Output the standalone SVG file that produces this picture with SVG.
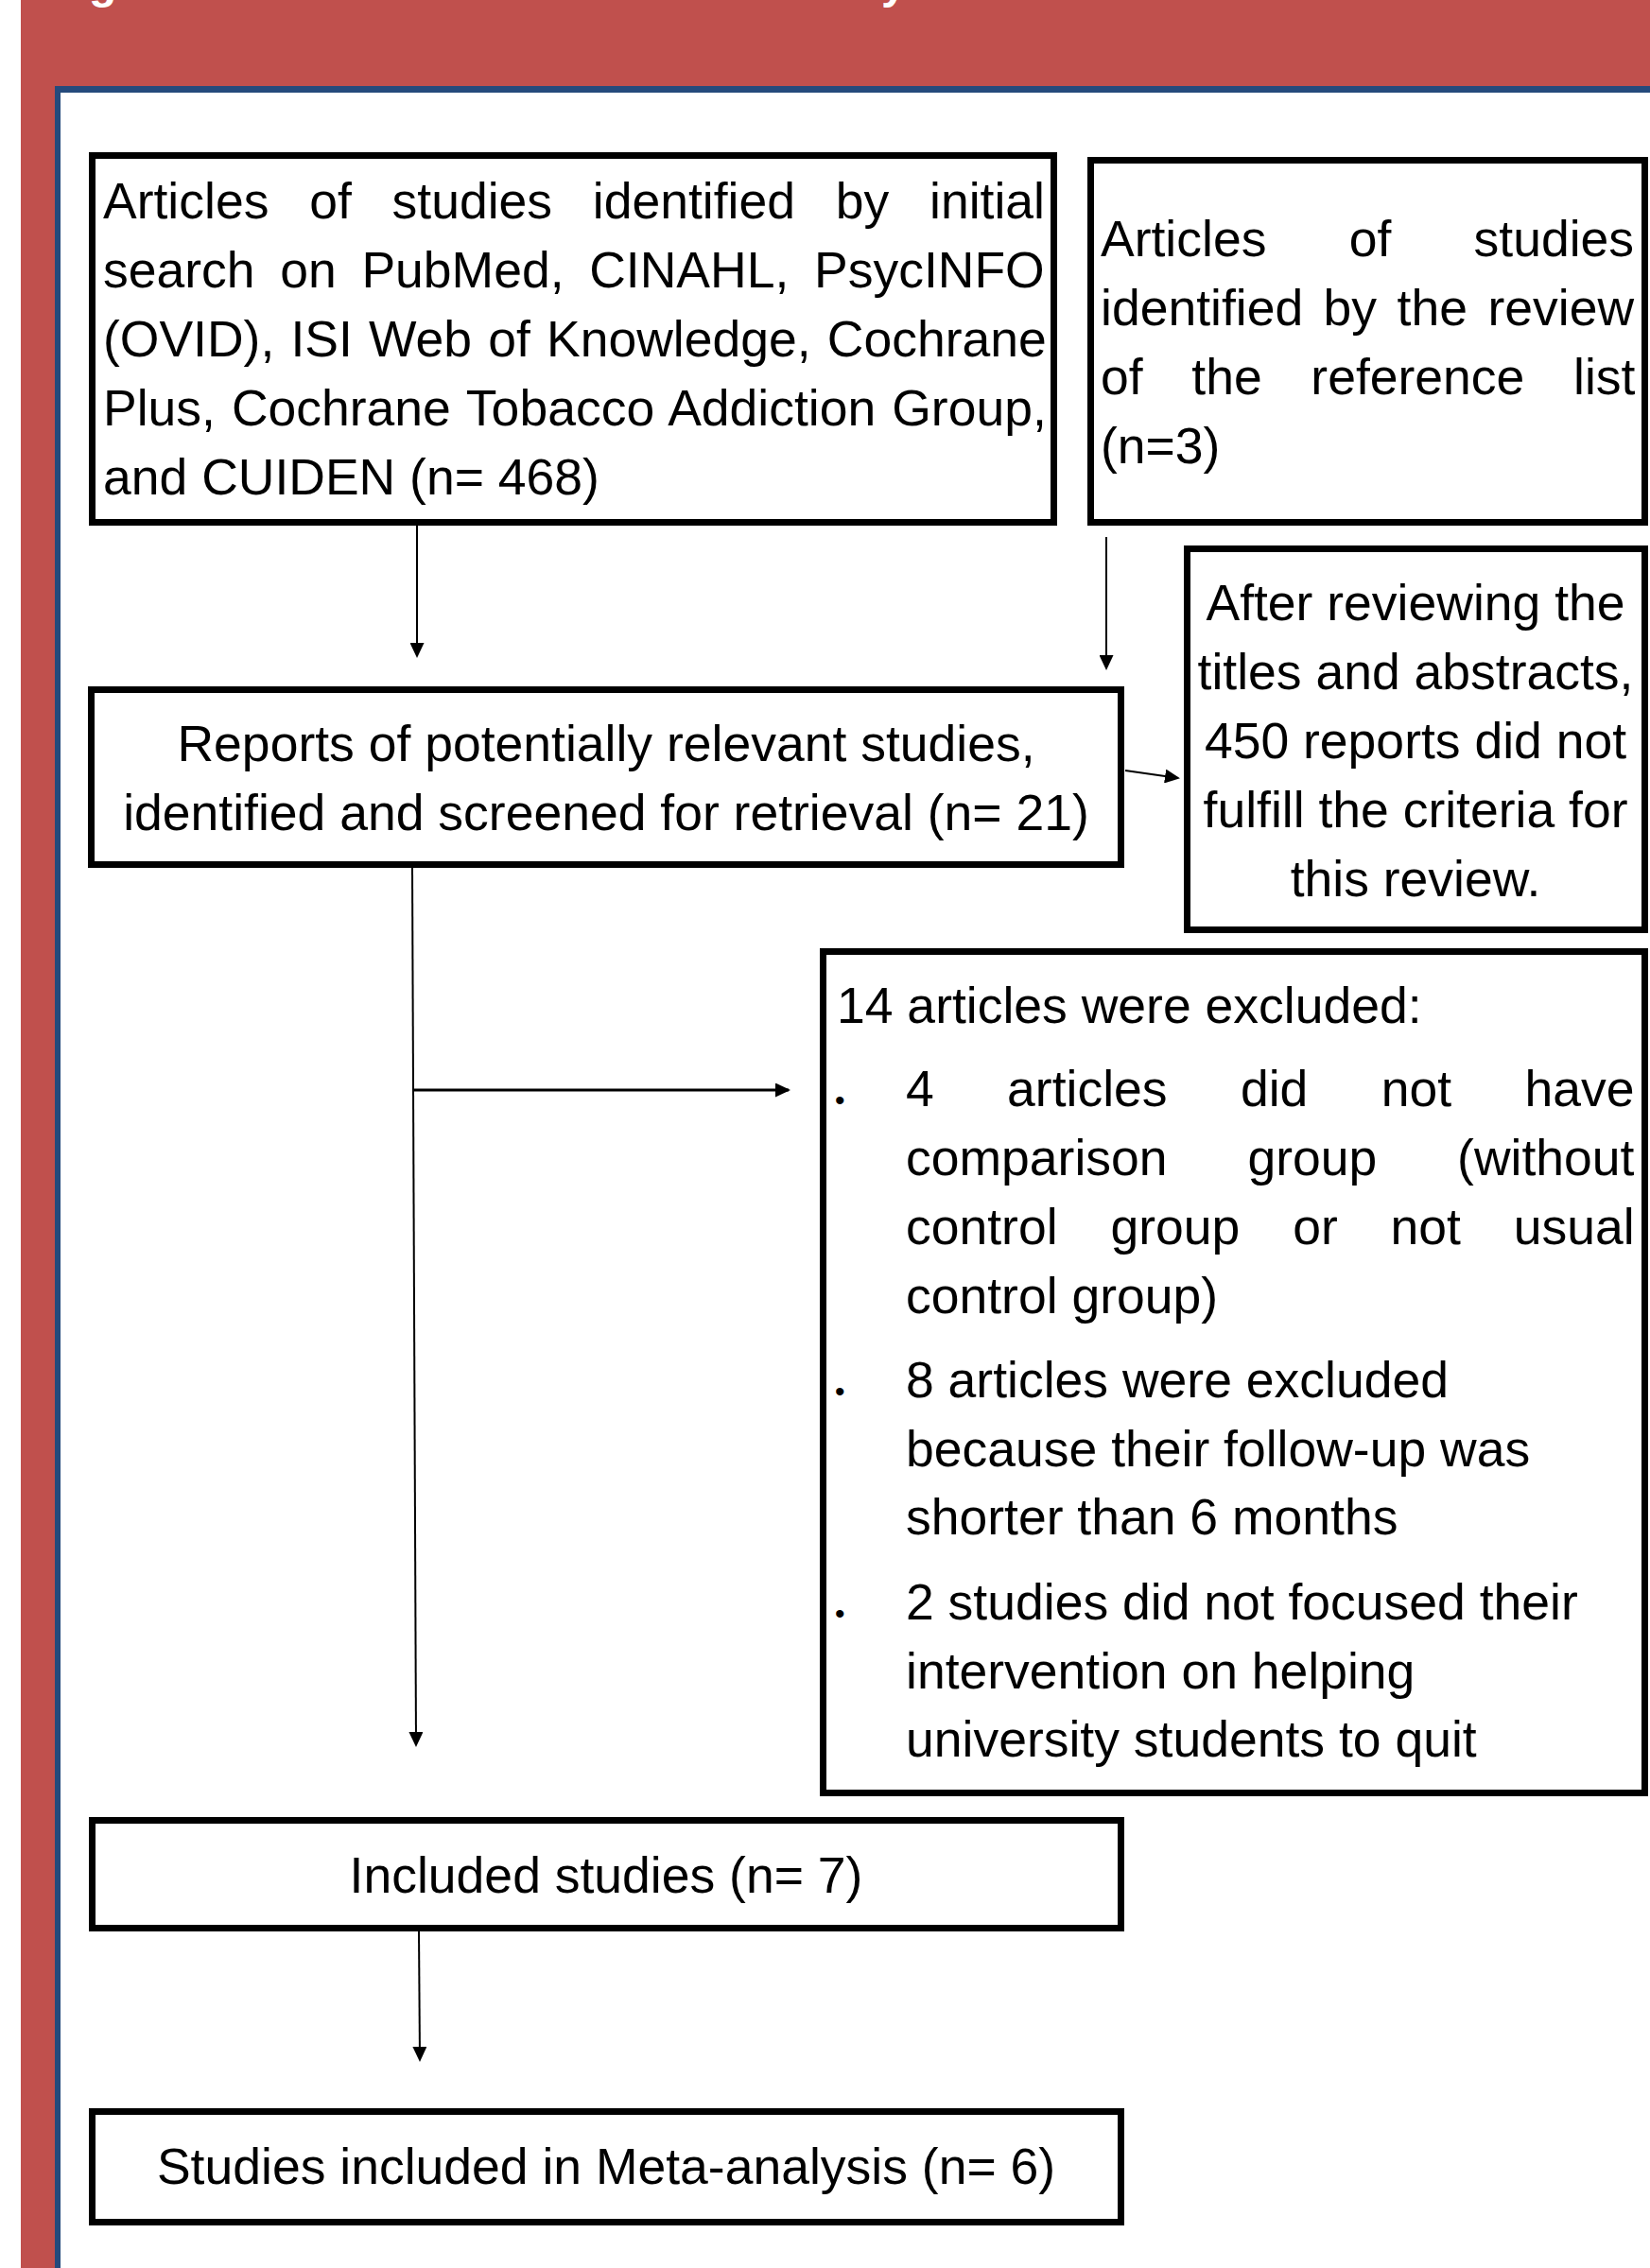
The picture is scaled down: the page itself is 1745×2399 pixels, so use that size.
<svg xmlns="http://www.w3.org/2000/svg" width="1745" height="2399" viewBox="0 0 1745 2399">
<defs>
<style>
.bg-red{fill:#C0504D}
.bg-blue{fill:#244A7C}
.box{fill:#FFFFFF;stroke:#000000;stroke-width:7}
.t{font-family:"Liberation Sans",Arial,sans-serif;font-size:53.5px;fill:#000000}
.c{text-anchor:middle}
.title{font-family:"Liberation Sans",Arial,sans-serif;font-size:48px;font-weight:bold;fill:#FFFFFF}
.bul{font-family:"Liberation Sans",Arial,sans-serif;font-size:30px;fill:#000000}
.conn{stroke:#000000;stroke-width:2;fill:none;marker-end:url(#arrow)}
</style>
<marker id="arrow" viewBox="0 0 16 15" refX="14" refY="7.5" markerWidth="16" markerHeight="15" markerUnits="userSpaceOnUse" orient="auto">
<path d="M0,0 L16,7.5 L0,15 Z" fill="#000000"/>
</marker>
</defs>

<g id="background">
<rect x="0" y="0" width="1745" height="2399" fill="#FFFFFF"/>
<rect class="bg-red" x="22" y="0" width="1723" height="91"/>
<rect class="bg-red" x="22" y="0" width="36" height="2399"/>
<rect class="bg-blue" x="58" y="91" width="1687" height="7"/>
<rect class="bg-blue" x="58" y="91" width="6" height="2308"/>
<text class="title" x="94" y="-2">g</text>
<text class="title" x="932" y="-2">y</text>
</g>

<g id="connectors">
<line class="conn" x1="441" y1="556" x2="441" y2="694"/>
<line class="conn" x1="1170" y1="568" x2="1170" y2="707"/>
<line class="conn" x1="1190" y1="815" x2="1246" y2="823"/>
<line class="conn" x1="436" y1="918" x2="440" y2="1846"/>
<line class="conn" x1="436" y1="1153" x2="834" y2="1153" style="stroke-width:3"/>
<line class="conn" x1="443" y1="2043" x2="444" y2="2179"/>
</g>

<g id="node-initial-search">
<rect class="box" x="97.5" y="164.5" width="1017" height="388"/>
<text class="t" x="109" y="231" word-spacing="27.9">Articles of studies identified by initial</text>
<text class="t" x="109" y="304" word-spacing="11.8">search on PubMed, CINAHL, PsycINFO</text>
<text class="t" x="109" y="377" word-spacing="2.3">(OVID), ISI Web of Knowledge, Cochrane</text>
<text class="t" x="109" y="450" word-spacing="2.1">Plus, Cochrane Tobacco Addiction Group,</text>
<text class="t" x="109" y="523">and CUIDEN (n= 468)</text>
</g>

<g id="node-reference-list">
<rect class="box" x="1153.5" y="169.5" width="586" height="383"/>
<text class="t" x="1164" y="271" word-spacing="72.4">Articles of studies</text>
<text class="t" x="1164" y="344" word-spacing="6.6">identified by the review</text>
<text class="t" x="1164" y="417" word-spacing="36.8">of the reference list</text>
<text class="t" x="1164" y="490">(n=3)</text>
</g>

<g id="node-reports">
<rect class="box" x="96.5" y="729.5" width="1089" height="185"/>
<text class="t c" x="641" y="805">Reports of potentially relevant studies,</text>
<text class="t c" x="641" y="878">identified and screened for retrieval (n= 21)</text>
</g>

<g id="node-titles-abstracts">
<rect class="box" x="1255.5" y="580.5" width="484" height="403"/>
<text class="t c" x="1497" y="656">After reviewing the</text>
<text class="t c" x="1497" y="729">titles and abstracts,</text>
<text class="t c" x="1497" y="802">450 reports did not</text>
<text class="t c" x="1497" y="875">fulfill the criteria for</text>
<text class="t c" x="1497" y="948">this review.</text>
</g>

<g id="node-excluded">
<rect class="box" x="870.5" y="1006.5" width="869" height="890"/>
<text class="t" x="885" y="1082">14 articles were excluded:</text>
<text class="bul" x="883" y="1174">•</text>
<text class="t" x="958" y="1170" word-spacing="62.5">4 articles did not have</text>
<text class="t" x="958" y="1243" word-spacing="70">comparison group (without</text>
<text class="t" x="958" y="1316" word-spacing="41">control group or not usual</text>
<text class="t" x="958" y="1389">control group)</text>
<text class="bul" x="883" y="1482">•</text>
<text class="t" x="958" y="1478">8 articles were excluded</text>
<text class="t" x="958" y="1551">because their follow-up was</text>
<text class="t" x="958" y="1623">shorter than 6 months</text>
<text class="bul" x="883" y="1717">•</text>
<text class="t" x="958" y="1713">2 studies did not focused their</text>
<text class="t" x="958" y="1786">intervention on helping</text>
<text class="t" x="958" y="1858">university students to quit</text>
</g>

<g id="node-included">
<rect class="box" x="97.5" y="1925.5" width="1088" height="114"/>
<text class="t c" x="641" y="2002">Included studies (n= 7)</text>
</g>

<g id="node-meta">
<rect class="box" x="97.5" y="2233.5" width="1088" height="117"/>
<text class="t c" x="641" y="2310">Studies included in Meta-analysis (n= 6)</text>
</g>
</svg>
